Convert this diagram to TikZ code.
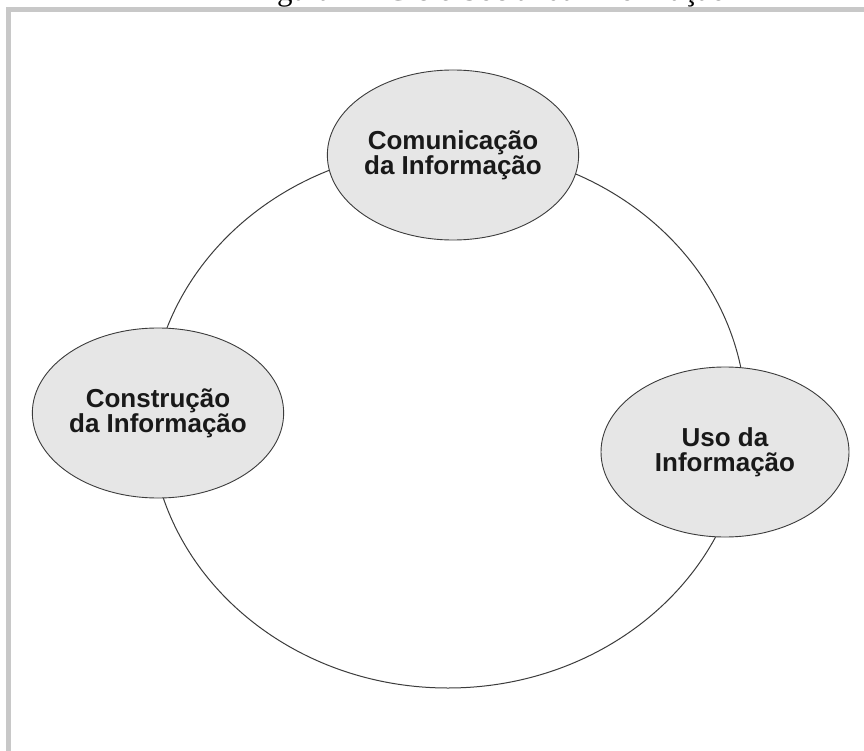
\documentclass[tikz,border=0pt]{standalone}
\usepackage{fontspec}
\setmainfont{Liberation Serif}
\newfontfamily\labfont{Liberation Sans}
\usetikzlibrary{shapes.geometric}
\definecolor{framegray}{HTML}{C8C8C8}
\definecolor{fillgray}{HTML}{E6E6E6}
\definecolor{linegray}{HTML}{3C3C3C}
\begin{document}
\begin{tikzpicture}[x=1pt,y=-1pt,
  phase/.style={ellipse, draw=linegray, fill=fillgray, line width=0.9pt,
    minimum width=248pt, minimum height=170pt, inner sep=0pt, align=center,
    font=\labfont\bfseries\fontsize{26}{25}\selectfont, text=black!90},
  cycle/.style={draw=linegray, line width=1pt},
  frame/.style={draw=framegray, line width=5.5pt}
]
\useasboundingbox (0,0) rectangle (864,751);
\fill[white] (0,0) rectangle (864,751);
\node[font=\fontsize{31}{31}\selectfont, anchor=base west, inner sep=0pt] (title) at (251,0.5) {Figura 1 – Ciclo Social da Informação};
\draw[frame] (8.5,770) -- (8.5,9.5) -- (880,9.5);
\draw[cycle] (448,418) ellipse [x radius=298, y radius=270];
\node[phase] (com) at (453,155) {Comunicação\\da Informação};
\node[phase] (con) at (158,413) {Construção\\da Informação};
\node[phase] (uso) at (725,452) {Uso da\\Informação};
\end{tikzpicture}
\end{document}
